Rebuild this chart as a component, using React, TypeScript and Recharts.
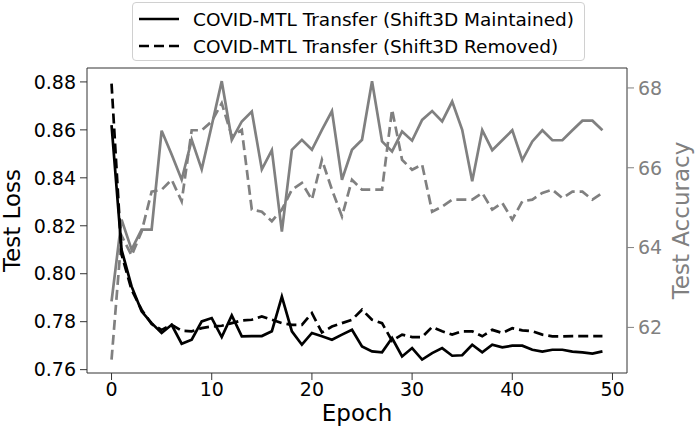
import React from "react";
import { LineChart, Line, XAxis, YAxis, ReferenceLine, Label } from "recharts";

const epochs = [0,1,2,3,4,5,6,7,8,9,10,11,12,13,14,15,16,17,18,19,20,21,22,23,24,25,26,27,28,29,30,31,32,33,34,35,36,37,38,39,40,41,42,43,44,45,46,47,48,49];

const lossMaintained = [0.862,0.810,0.7947,0.7843,0.7794,0.7753,0.7787,0.7708,0.7725,0.7801,0.7815,0.7736,0.7826,0.7739,0.774,0.774,0.776,0.7905,0.776,0.7704,0.7753,0.7739,0.7725,0.7746,0.7766,0.7697,0.7676,0.7672,0.7732,0.7655,0.769,0.7642,0.7669,0.769,0.7658,0.766,0.7704,0.7672,0.7704,0.7693,0.770,0.770,0.7683,0.7675,0.7683,0.7683,0.7675,0.7672,0.7667,0.7676];

const lossRemoved = [0.8793,0.808,0.7933,0.785,0.779,0.7766,0.7787,0.7762,0.776,0.7773,0.778,0.7783,0.7794,0.7805,0.7808,0.7822,0.7808,0.7794,0.7787,0.7787,0.7836,0.7755,0.778,0.7794,0.7808,0.785,0.7808,0.7794,0.772,0.7746,0.7736,0.7736,0.7778,0.776,0.7746,0.776,0.776,0.7739,0.7766,0.7753,0.7773,0.7764,0.776,0.7746,0.7739,0.7739,0.774,0.774,0.774,0.774];

const accMaintained = [62.65,64.7,63.95,64.45,64.45,66.93,66.33,65.7,66.7,65.96,67.06,68.17,66.7,67.16,67.41,65.96,66.44,64.4,66.45,66.7,66.45,66.95,67.42,65.7,66.45,66.7,68.17,66.66,66.41,66.91,66.68,67.2,67.42,67.16,67.66,66.95,65.66,66.94,66.44,66.69,66.94,66.19,66.66,66.94,66.69,66.69,66.94,67.18,67.18,66.94];

const accRemoved = [61.19,64.3,63.8,64.4,65.4,65.45,65.7,65.16,66.94,66.94,67.16,67.62,66.79,66.95,64.95,64.9,64.66,64.95,65.45,65.62,65.2,66.2,65.45,64.78,65.7,65.45,65.45,65.45,67.46,66.2,65.95,66.08,64.9,65.03,65.2,65.2,65.2,65.37,64.95,65.12,64.7,65.16,65.2,65.37,65.45,65.24,65.4,65.4,65.2,65.37];

const xTicks = [0, 10, 20, 30, 40, 50];
const lossTicks = [0.76, 0.78, 0.8, 0.82, 0.84, 0.86, 0.88];
const accTicks = [62, 64, 66, 68];
const legendLabels = [
  "COVID-MTL Transfer (Shift3D Maintained)",
  "COVID-MTL Transfer (Shift3D Removed)",
];

const data = epochs.map((e, i) => ({
  epoch: e,
  lossM: lossMaintained[i],
  lossR: lossRemoved[i],
  accM: accMaintained[i],
  accR: accRemoved[i],
}));

const FONT = "DejaVu Sans";
const GRAY = "#808080";
const LOSS_DOMAIN: [number, number] = [0.7586, 0.8858];
const ACC_DOMAIN: [number, number] = [60.857, 68.5];
const X_DOMAIN: [number, number] = [-2.45, 51.45];

function makeVerticalLabel(text: string, color: string, baselineFromLeft: number) {
  return (props: any) => {
    const vb = props.viewBox || { x: 0, y: 0, width: 0, height: 0 };
    const bx = vb.x + baselineFromLeft;
    const cy = vb.y + vb.height / 2;
    return (
      <text
        x={bx}
        y={cy}
        transform={`rotate(-90, ${bx}, ${cy})`}
        textAnchor="middle"
        fill={color}
        fontSize={23}
        fontFamily={FONT}
      >
        {text}
      </text>
    );
  };
}

export default function App() {
  return (
    <div style={{ position: "absolute", left: 0, top: 0, width: 696, height: 435, background: "#fff", fontFamily: FONT }}>
      <LineChart
        width={696}
        height={435}
        data={data}
        margin={{ top: 68, right: 0, bottom: 0, left: 0 }}
      >
        <XAxis
          dataKey="epoch"
          type="number"
          domain={X_DOMAIN}
          ticks={xTicks}
          allowDataOverflow
          height={62}
          tickSize={7}
          tickMargin={3}
          stroke="#333"
          tick={{ fill: "#000", fontSize: 19, fontFamily: FONT }}
        >
          <Label
            value="Epoch"
            position="insideBottom"
            offset={14}
            style={{ fill: "#000", fontSize: 23, fontFamily: FONT }}
          />
        </XAxis>
        <YAxis
          yAxisId="loss"
          orientation="left"
          domain={LOSS_DOMAIN}
          ticks={lossTicks}
          allowDataOverflow
          width={87}
          tickSize={7}
          tickMargin={4}
          stroke="#333"
          tickFormatter={(v: number) => v.toFixed(2)}
          tick={{ fill: "#000", fontSize: 19, fontFamily: FONT }}
        >
          <Label content={makeVerticalLabel("Test Loss", "#000", 19.5)} />
        </YAxis>
        <YAxis
          yAxisId="acc"
          orientation="right"
          domain={ACC_DOMAIN}
          ticks={accTicks}
          allowDataOverflow
          width={69}
          tickSize={7}
          tickMargin={4}
          stroke="#333"
          tickLine={{ stroke: GRAY }}
          tick={{ fill: GRAY, fontSize: 19, fontFamily: FONT }}
        >
          <Label content={makeVerticalLabel("Test Accuracy", GRAY, 62)} />
        </YAxis>
        <ReferenceLine yAxisId="loss" y={LOSS_DOMAIN[1]} stroke="#333" ifOverflow="visible" />
        <Line yAxisId="acc" dataKey="accM" type="linear" stroke={GRAY} strokeWidth={2.7} dot={false} isAnimationActive={false} />
        <Line yAxisId="acc" dataKey="accR" type="linear" stroke={GRAY} strokeWidth={2.7} strokeDasharray="10 5" dot={false} isAnimationActive={false} />
        <Line yAxisId="loss" dataKey="lossM" type="linear" stroke="#000" strokeWidth={2.7} dot={false} isAnimationActive={false} />
        <Line yAxisId="loss" dataKey="lossR" type="linear" stroke="#000" strokeWidth={2.7} strokeDasharray="10 5" dot={false} isAnimationActive={false} />
      </LineChart>
      <div
        style={{
          position: "absolute",
          left: 132,
          top: 2,
          width: 453,
          height: 59,
          boxSizing: "border-box",
          border: "1px solid #d0d0d0",
          borderRadius: 4,
          background: "rgba(255,255,255,0.8)",
        }}
      >
        {legendLabels.map((label, i) => (
          <div
            key={label}
            style={{
              position: "absolute",
              left: 5,
              top: 4 + i * 27,
              height: 24,
              display: "flex",
              alignItems: "center",
              whiteSpace: "nowrap",
            }}
          >
            <svg width={42} height={24} style={{ display: "block" }}>
              <line
                x1={1}
                y1={12}
                x2={41}
                y2={12}
                stroke="#000"
                strokeWidth={2.7}
                strokeDasharray={i === 1 ? "10 5" : undefined}
              />
            </svg>
            <span style={{ marginLeft: 13, fontSize: 18.5, color: "#000", fontFamily: FONT }}>{label}</span>
          </div>
        ))}
      </div>
    </div>
  );
}
